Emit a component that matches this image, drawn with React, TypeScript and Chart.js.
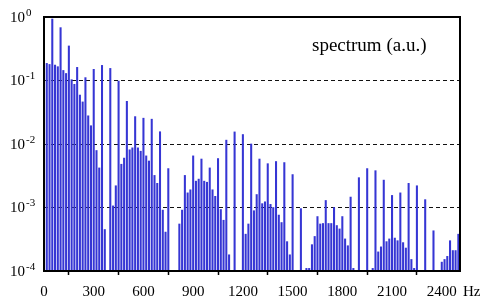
import React, { useEffect, useRef } from 'react';
import { Chart, registerables } from 'chart.js';

Chart.register(...registerables);

// Spectral line frequencies (Hz)
const freqHz: number[] = [
  16.7, 33.3, 50, 66.7, 83.3, 100, 116.7, 133.3, 150, 166.7, 183.3, 200, 216.7, 233.3, 250, 266.7, 283.3, 300, 316.7, 333.3, 350, 366.7,
  400, 416.7, 433.3, 450, 466.7, 483.3, 500, 516.7, 533.3, 550, 566.7, 583.3, 600, 616.7, 633.3, 650, 666.7, 683.3, 700, 716.7, 733.3, 750,
  816.7, 833.3, 850, 866.7, 883.3, 900, 916.7, 933.3, 950, 966.7, 983.3, 1000, 1016.7, 1033.3, 1050, 1066.7, 1083.3, 1100, 1116.7,
  1150,
  1200, 1216.7, 1233.3, 1250, 1266.7, 1283.3, 1300, 1316.7, 1333.3, 1350, 1366.7, 1383.3, 1400, 1416.7, 1433.3, 1450, 1466.7, 1483.3, 1500,
  1550,
  1583.3, 1600, 1616.7, 1633.3, 1650, 1666.7, 1683.3, 1700, 1716.7, 1733.3, 1750, 1766.7, 1783.3, 1800, 1816.7, 1833.3, 1850, 1866.7,
  1900,
  1950,
  1983.3, 2000, 2016.7, 2033.3, 2050, 2066.7, 2083.3, 2100, 2116.7, 2133.3, 2150, 2166.7, 2183.3, 2200, 2216.7, 2233.3, 2250,
  2300,
  2350,
  2400, 2416.7, 2433.3, 2450, 2466.7, 2483.3, 2500,
];

// Spectrum amplitudes (a.u.) for each line above
const amplitude: number[] = [
  0.186, 0.179, 0.93, 0.175, 0.165, 0.68, 0.144, 0.129, 0.35, 0.103, 0.087, 0.161, 0.059, 0.046, 0.111, 0.0278, 0.0194, 0.15, 0.0079, 0.0042, 0.173, 0.00045,
  0.155, 0.00106, 0.0022, 0.098, 0.0048, 0.006, 0.047, 0.0081, 0.0087, 0.027, 0.0087, 0.0077, 0.0255, 0.0065, 0.0054, 0.0246, 0.0032, 0.0024, 0.0156, 0.00091, 0.00041, 0.0041,
  0.00055, 0.00091, 0.0032, 0.0017, 0.0019, 0.0065, 0.0026, 0.0028, 0.0058, 0.0026, 0.0025, 0.0042, 0.0019, 0.0015, 0.0059, 0.00093, 0.00063, 0.0115, 0.00018,
  0.0155,
  0.0141, 0.00038, 0.00055, 0.01, 0.00089, 0.0016, 0.0058, 0.00115, 0.00123, 0.0049, 0.00112, 0.001, 0.0053, 0.00076, 0.00058, 0.0051, 0.00029, 0.00018, 0.0033,
  0.00096,
  0.00011, 0.00011, 0.00026, 0.00035, 0.00072, 0.00055, 0.00056, 0.00129, 0.00056, 0.00056, 0.001, 0.00052, 0.00046, 0.00072, 0.00032, 0.00025, 0.00146, 0.00011,
  0.00295,
  0.0041,
  0.00011, 0.0038, 0.0002, 0.00024, 0.0027, 0.00029, 0.00032, 0.00155, 0.00033, 0.0003, 0.0017, 0.00028, 0.00023, 0.0024, 0.000152, 0.00011, 0.0022,
  0.00133,
  0.00043,
  0.000138, 0.000152, 0.00017, 0.0003, 0.00021, 0.00021, 0.00038,
];

const xTicks: number[] = [0, 300, 600, 900, 1200, 1500, 1800, 2100, 2400];
const yTicks: number[] = [1e-4, 1e-3, 1e-2, 1e-1, 1];
const yExponents: string[] = ['-4', '-3', '-2', '-1', '0'];
const dashedAt: number[] = [1e-3, 1e-2, 1e-1];
const titleText = 'spectrum (a.u.)';
const xUnit = 'Hz';

const SERIF = "'Liberation Serif', 'Times New Roman', serif";
const BLUE = '#3636d4';

export default function App() {
  const ref = useRef<HTMLCanvasElement>(null);

  useEffect(() => {
    const canvas = ref.current;
    if (!canvas) return;

    const decor = {
      id: 'decor',
      afterDraw(chart: any) {
        const { ctx, chartArea } = chart;
        const ys = chart.scales.y;
        ctx.save();
        // frame
        ctx.strokeStyle = '#000';
        ctx.lineWidth = 2;
        ctx.strokeRect(chartArea.left, chartArea.top, chartArea.right - chartArea.left, chartArea.bottom - chartArea.top);
        // y labels 10^n
        ctx.fillStyle = '#000';
        ctx.textAlign = 'left';
        ctx.textBaseline = 'middle';
        yTicks.forEach((v, i) => {
          const py = ys.getPixelForValue(v);
          ctx.font = `15px ${SERIF}`;
          ctx.fillText('10', 10, py + 1);
          const w = ctx.measureText('10').width;
          ctx.font = `11px ${SERIF}`;
          ctx.fillText(yExponents[i], 10 + w + 1, py - 4);
        });
        // unit
        ctx.font = `15px ${SERIF}`;
        ctx.fillText(xUnit, 463, 292);
        // title
        ctx.font = `19px ${SERIF}`;
        ctx.textBaseline = 'alphabetic';
        ctx.fillText(titleText, 312, 50.5);
        ctx.restore();
      },
    };

    const chart = new Chart(canvas, {
      type: 'bar',
      data: {
        datasets: [
          {
            data: freqHz.map((f, i) => ({ x: f, y: amplitude[i] })),
            backgroundColor: BLUE,
            borderWidth: 0,
            barThickness: 1.4,
            base: 1e-4,
          } as any,
        ],
      },
      options: {
        animation: false,
        responsive: false,
        maintainAspectRatio: false,
        layout: { padding: { top: 17, right: 23, left: 0, bottom: 0 } },
        plugins: {
          legend: { display: false },
          tooltip: { enabled: false },
          title: { display: false },
        },
        scales: {
          x: {
            type: 'linear',
            min: 0,
            max: 2510,
            offset: false,
            afterBuildTicks: (s: any) => {
              s.ticks = xTicks.map((v) => ({ value: v }));
            },
            afterFit: (s: any) => {
              s.height = 28;
            },
            ticks: {
              autoSkip: false,
              maxRotation: 0,
              padding: 8,
              color: '#000',
              font: { family: SERIF, size: 15 },
              callback: (v: any) => String(v),
            },
            grid: {
              display: true,
              drawOnChartArea: false,
              drawTicks: true,
              tickLength: 4,
              tickColor: '#000',
              tickWidth: 1.5,
            },
            border: { display: false },
          },
          y: {
            type: 'logarithmic',
            min: 1e-4,
            max: 1,
            afterBuildTicks: (s: any) => {
              s.ticks = yTicks.map((v) => ({ value: v }));
            },
            afterFit: (s: any) => {
              s.width = 44;
            },
            ticks: { display: false },
            grid: {
              drawTicks: false,
              lineWidth: 1,
              color: (c: any) =>
                c.tick && dashedAt.some((d) => Math.abs(d - c.tick.value) < d * 1e-6) ? '#111' : 'rgba(0,0,0,0)',
            },
            border: { display: false, dash: [4, 3] },
          },
        },
      } as any,
      plugins: [decor],
    });

    return () => chart.destroy();
  }, []);

  return (
    <div style={{ position: 'fixed', left: 0, top: 0, width: 483, height: 299, background: '#fff' }}>
      <canvas ref={ref} width={483} height={299} style={{ display: 'block' }} />
    </div>
  );
}
